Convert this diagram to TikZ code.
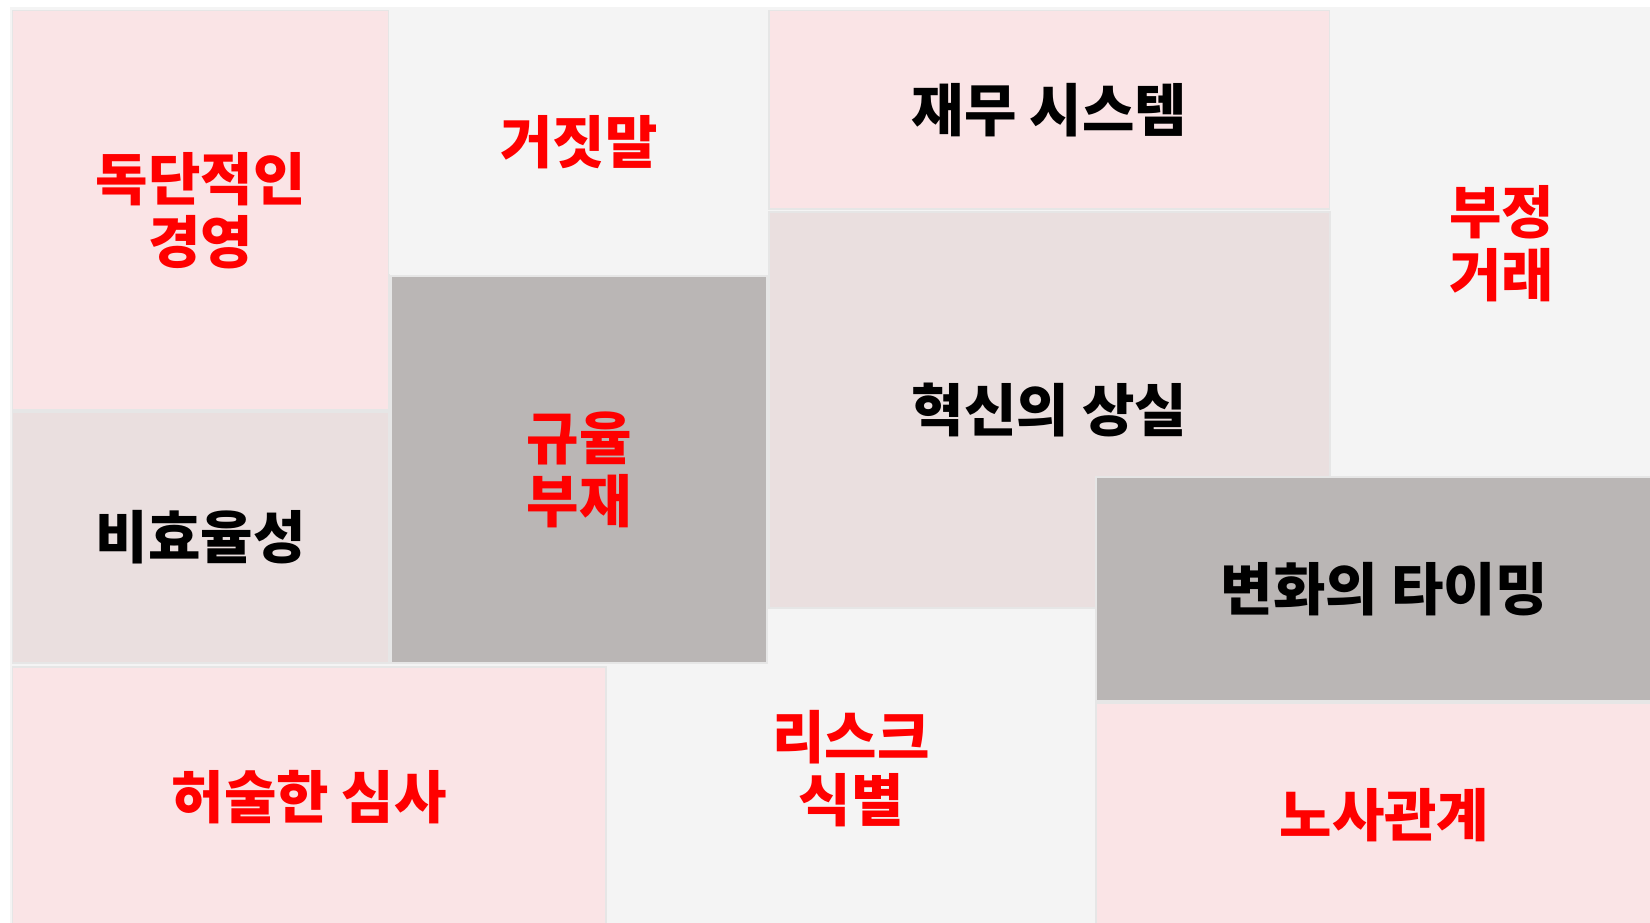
\documentclass[tikz,border=0pt]{standalone}
\usepackage{fontspec}
\setmainfont{Noto Sans CJK KR}
\definecolor{tpink}{HTML}{FAE4E6}
\definecolor{tlight}{HTML}{F4F4F4}
\definecolor{tdusty}{HTML}{EADFDF}
\definecolor{tdark}{HTML}{BAB6B5}
\definecolor{tedge}{HTML}{E6E6E6}
\definecolor{tred}{HTML}{FF0000}
\tikzset{
  tile/.style={rectangle, draw=tedge, line width=1.5pt, inner sep=0pt, align=center,
    font=\bfseries\fontsize{57}{63}\selectfont},
  redtxt/.style={text=tred},
  blktxt/.style={text=black}
}
\newcommand{\tileat}[7]{%
  \node[tile,#6,minimum width={#3-#1}, minimum height={#4-#2}] (#7) at ({(#1+#3)/2},{(#2+#4)/2}) {#5};}
\begin{document}
\begin{tikzpicture}[x=1pt,y=-1pt]
\useasboundingbox (0,0) rectangle (1650,923);
\clip (0,0) rectangle (1650,923);
\fill[white] (0,0) rectangle (1650,923);
\fill[tlight] (10,7) rectangle (1650,923);
\tileat{606}{610}{1096}{927}{리스크\\식별}{fill=tlight,redtxt,draw=none}{t10}
\tileat{12.5}{10.5}{389}{410}{독단적인\\경영}{fill=tpink,redtxt}{t1}
\tileat{389}{10.5}{769}{274}{거짓말}{fill=tlight,redtxt,draw=none}{t2}
\tileat{769}{10.5}{1330}{209}{재무 시스템}{fill=tpink,blktxt}{t3}
\tileat{1330}{10.5}{1673}{477}{부정\\거래}{fill=tlight,redtxt,draw=none}{t4}
\tileat{391}{276}{767}{663}{규율\\부재}{fill=tdark,redtxt}{t5}
\tileat{12.5}{412}{389}{663}{비효율성}{fill=tdusty,blktxt}{t6}
\tileat{769}{212}{1330}{608}{혁신의 상실}{fill=tdusty,blktxt}{t7}
\tileat{1096}{477}{1673}{701}{변화의 타이밍}{fill=tdark,blktxt}{t8}
\tileat{12.5}{667}{606}{927}{허술한 심사}{fill=tpink,redtxt}{t9}
\tileat{1096}{703}{1673}{927}{노사관계}{fill=tpink,redtxt}{t11}
\end{tikzpicture}
\end{document}
